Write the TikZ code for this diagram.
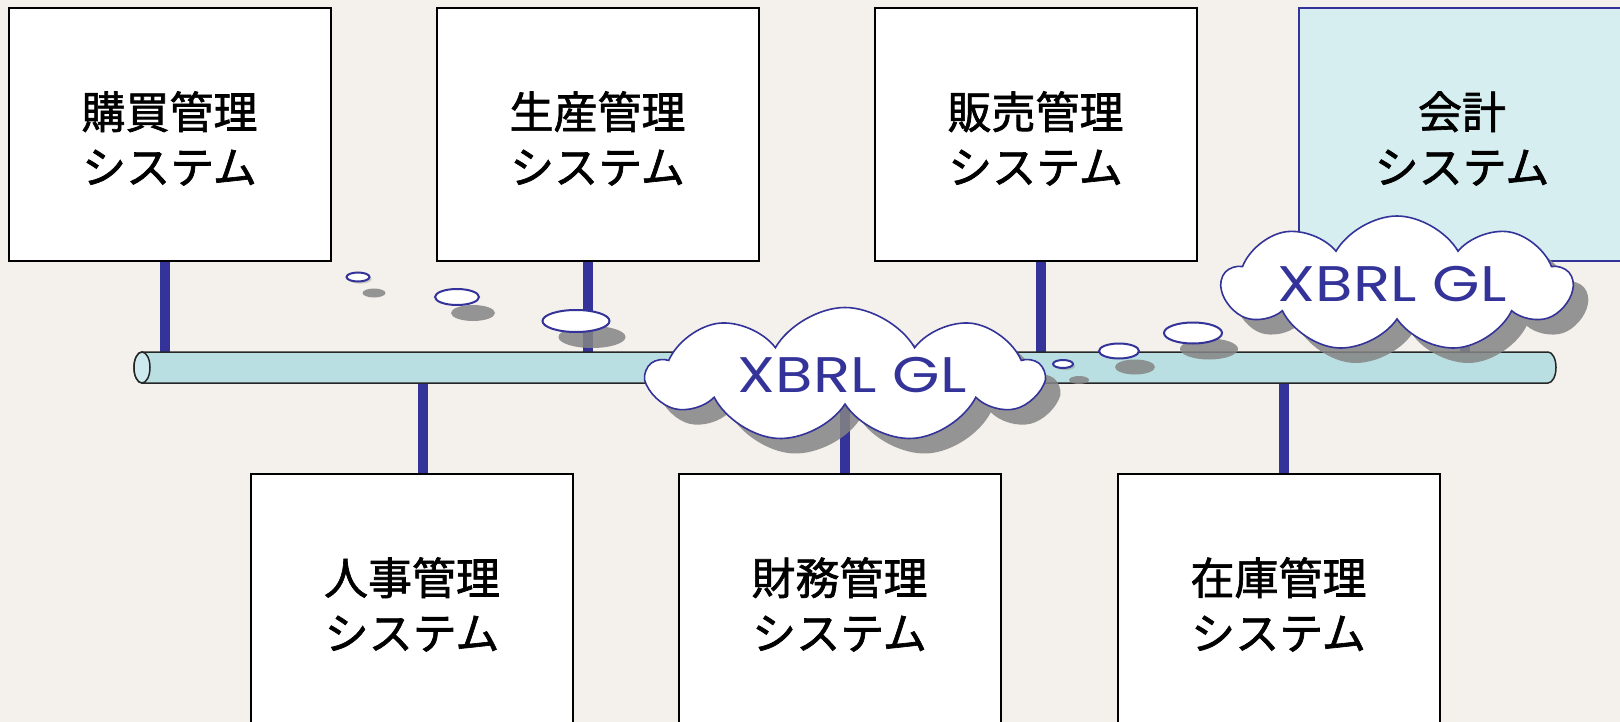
\documentclass[tikz,border=0pt]{standalone}
\usepackage{fontspec}
\usetikzlibrary{shapes.symbols,shadows}
\newfontfamily\jpfont[FakeBold=1.5]{Noto Sans CJK JP}
\newfontfamily\xbrlfont{Poppins}
\definecolor{bgcol}{HTML}{F4F0EB}
\definecolor{linkblue}{HTML}{333399}
\definecolor{pipecol}{HTML}{B9DFE2}
\definecolor{pipeend}{HTML}{CDEBEE}
\definecolor{acctcol}{HTML}{D6EEF0}
\definecolor{shadowgray}{HTML}{858585}

\begin{document}
\begin{tikzpicture}[x=1pt,y=-1pt,
    sysbox/.style={draw=black,line width=2pt,fill=white,minimum width=322pt,minimum height=253pt,
        align=center,inner sep=0pt,text height=100pt,text depth=2pt,font=\jpfont\fontsize{44}{55}\selectfont},
    link/.style={draw=linkblue,line width=10pt},
    gl/.style={cloud,cloud puffs=9,cloud puff arc=120,cloud ignores aspect,draw=linkblue,line width=1.6pt,
        fill=white,text=linkblue,font=\xbrlfont\fontsize{50}{60}\selectfont,
        drop shadow={shadow xshift=15pt,shadow yshift=-15pt,fill=shadowgray,opacity=0.85}},
    bubble/.style={draw=linkblue,line width=2pt,fill=white,
        drop shadow={shadow xshift=16pt,shadow yshift=-16pt,fill=shadowgray,opacity=0.85}}]

    % background
    \fill[bgcol] (0,0) rectangle (1620,722);
    \useasboundingbox (0,0) rectangle (1620,722);

    % the systems
    \node[sysbox] (buy) at (169.5,134.5) {購買管理\\システム};
    \node[sysbox] (prod) at (597.5,134.5) {生産管理\\システム};
    \node[sysbox] (sales) at (1035.5,134.5) {販売管理\\システム};
    \node[sysbox,draw=linkblue,fill=acctcol,minimum width=326pt] (acct) at (1462,134.5) {会計\\システム};
    \node[sysbox] (hr) at (412,600.5) {人事管理\\システム};
    \node[sysbox] (fin) at (839.5,600.5) {財務管理\\システム};
    \node[sysbox] (inv) at (1278.5,600.5) {在庫管理\\システム};

    % the bus
    \coordinate (pipeT) at (845,352);
    \coordinate (pipeB) at (845,383);

    % links down to the bus
    \draw[link] ([xshift=-4.5pt]buy.south) -- ([xshift=-4.5pt]buy.south |- pipeT);
    \draw[link] ([xshift=-9.5pt]prod.south) -- ([xshift=-9.5pt]prod.south |- pipeT);
    \draw[link] ([xshift=5.5pt]sales.south) -- ([xshift=5.5pt]sales.south |- pipeT);
    \draw[link] ([xshift=3pt]acct.south) -- ([xshift=3pt]acct.south |- pipeT);

    % links up to the bus
    \draw[link] ([xshift=11pt]hr.north) -- ([xshift=11pt]hr.north |- pipeB);
    \draw[link] ([xshift=5.5pt]fin.north) -- ([xshift=5.5pt]fin.north |- pipeB);
    \draw[link] ([xshift=5.5pt]inv.north) -- ([xshift=5.5pt]inv.north |- pipeB);

    % draw the pipe
    \draw[line width=1.5pt,draw=black!85,fill=pipecol] (142,352) -- (1548,352)
        arc[start angle=-90,end angle=90,x radius=8,y radius=15.5] -- (142,383)
        arc[start angle=90,end angle=270,x radius=8,y radius=15.5] -- cycle;
    \draw[line width=1.5pt,draw=black!85,fill=pipeend] (142,367.5) ellipse[x radius=8,y radius=15.5];

    % thought bubbles
    \draw[bubble,drop shadow={opacity=0.35}] (358,277) ellipse[x radius=11.5,y radius=4.5];
    \draw[bubble] (457,297) ellipse[x radius=22,y radius=8];
    \draw[bubble] (576,321) ellipse[x radius=33.5,y radius=11];
    \draw[bubble,drop shadow={opacity=0.35}] (1063,364) ellipse[x radius=10,y radius=4];
    \draw[bubble] (1119,351) ellipse[x radius=20,y radius=7.5];
    \draw[bubble] (1193,333) ellipse[x radius=29,y radius=10.5];

    % the clouds
    \node[gl,minimum width=394pt,minimum height=135pt] (gl1) at (845,375) {\scalebox{1.22}[1]{\hspace{12pt}XBRL GL}};
    \node[gl,minimum width=349pt,minimum height=136pt] (gl2) at (1397,284) {\scalebox{1.22}[1]{XBRL GL\hspace{8pt}}};
\end{tikzpicture}
\end{document}
